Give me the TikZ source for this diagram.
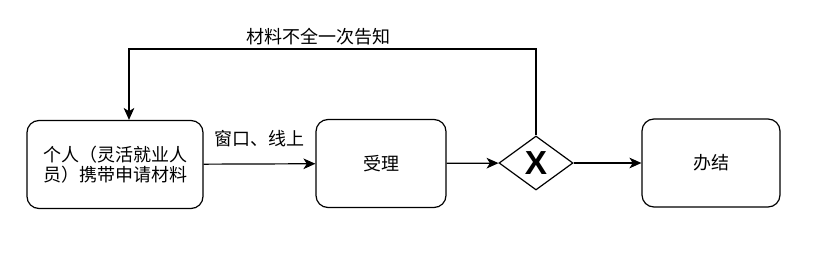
\documentclass[tikz,border=0pt]{standalone}
\usepackage{fontspec}
\usepackage{tikz}
\usetikzlibrary{positioning,arrows.meta,shapes.geometric}
\newfontfamily\cjkfont{Noto Sans CJK SC}
\newfontfamily\gatefont{Liberation Sans}

\begin{document}
\begin{tikzpicture}[
  x=0.75pt, y=-0.75pt,
  font=\cjkfont\fontsize{13.5}{15}\selectfont,
  proc/.style={draw=black, fill=white, line width=0.9pt, rounded corners=9pt,
               align=center, minimum height=66pt},
  xgate/.style={draw=black, fill=white, diamond, aspect=1.37, inner sep=0pt,
                minimum width=55.5pt, minimum height=40.5pt, line width=0.9pt,
                font=\gatefont\bfseries\fontsize{25}{25}\selectfont},
  lk/.style={-{Stealth[length=9pt,width=8pt,inset=2.5pt]}, line width=0.9pt},
]
\useasboundingbox (0,0) rectangle (813,253);
% Main lane
\node[proc, minimum width=132pt] (apply) at (115,164.5)
  {个人（灵活就业人\\员）携带申请材料};
\node[proc, minimum width=97.5pt] (accept) at (381,163.5) {受理};
\node[xgate] (check) at (536,163) {X};
\node[proc, minimum width=103.5pt] (done) at (711,163) {办结};
\draw[lk] (apply) -- node[above=9pt] (chan) {窗口、线上} (accept);
\draw[lk] (accept) -- (check);
\draw[lk] (check) -- (done);
% Return loop
\coordinate (ret) at (129,49);
\draw[lk] (check.north) |- (ret) -- (ret |- apply.north);
\node (retlbl) at (318,37) {材料不全一次告知};
\end{tikzpicture}
\end{document}
